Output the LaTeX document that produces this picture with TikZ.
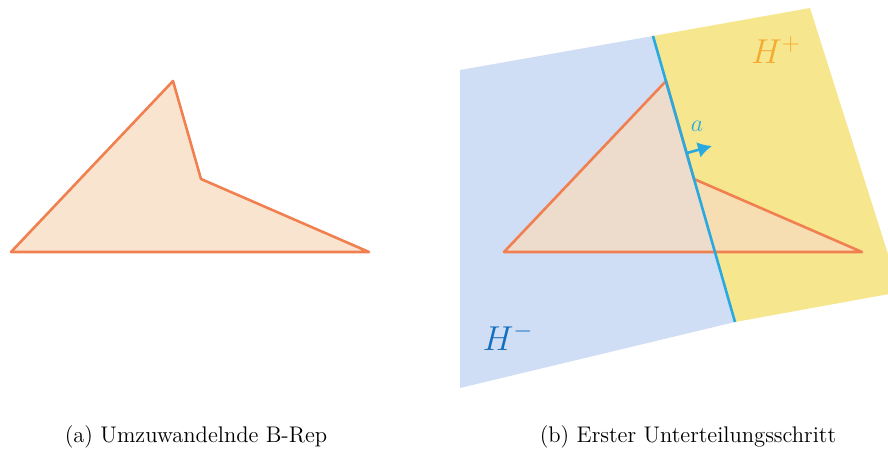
\documentclass[tikz,border=0pt]{standalone}
\usepackage{amsmath,amssymb}
\usetikzlibrary{arrows.meta}

\definecolor{edgeorange}{RGB}{240,128,80}
\definecolor{polyfill}{RGB}{247,220,191}
\definecolor{planeblue}{RGB}{208,222,245}
\definecolor{planeyellow}{RGB}{246,231,142}
\definecolor{cutblue}{RGB}{40,170,225}
\definecolor{hplus}{RGB}{245,170,50}
\definecolor{hminus}{RGB}{20,110,190}

\tikzset{
  brep/.style={draw=edgeorange,fill=polyfill,fill opacity=.75,draw opacity=1,line width=1.3pt,line join=round},
  cutline/.style={draw=cutblue,line width=1.3pt},
  halfspace/.style={font=\fontsize{17}{20}\selectfont},
  subcap/.style={font=\fontsize{11.3}{13}\selectfont,inner sep=0pt}
}

\begin{document}
\begin{tikzpicture}[x=.5pt,y=-.5pt]
\path[use as bounding box] (0,0) rectangle (888,450);
\clip (0,0) rectangle (888,450);
% (a) polygon
\coordinate (a1) at (11,252);
\coordinate (a2) at (173,81);
\coordinate (a3) at (201,179);
\coordinate (a4) at (369,252);
\path[brep] (a1)--(a2)--(a3)--(a4)--cycle;
% (b) half spaces
\coordinate (p1) at (460,70);
\coordinate (p2) at (653,36);
\coordinate (p3) at (810,8);
\coordinate (p4) at (900,292);
\coordinate (p5) at (735,322);
\coordinate (p6) at (460,388);
\fill[planeblue] (p1)--(p2)--(p5)--(p6)--cycle;
\fill[planeyellow] (p2)--(p3)--(p4)--(p5)--cycle;
% (b) polygon
\coordinate (b1) at (504,252);
\coordinate (b2) at (666,81);
\coordinate (b3) at (694,179);
\coordinate (b4) at (862,252);
\path[brep] (b1)--(b2)--(b3)--(b4)--cycle;
\draw[cutline] (p2)--(p5);
\coordinate (n0) at (687,153);
\coordinate (n1) at (712,146);
\draw[cutline,-{Latex[length=7pt,width=8pt]}] (n0)--(n1);
\node[text=cutblue,font=\fontsize{12}{14}\selectfont] (alab) at (697,126) {$a$};
\node[halfspace,text=hplus] (hp) at (776,50) {$H^{+}$};
\node[halfspace,text=hminus] (hm) at (508,337) {$H^{-}$};
% captions
\node[subcap] (capa) at (196,437) {(a)\ Umzuwandelnde B-Rep};
\node[subcap] (capb) at (688,437) {(b)\ Erster Unterteilungsschritt};
\end{tikzpicture}
\end{document}
